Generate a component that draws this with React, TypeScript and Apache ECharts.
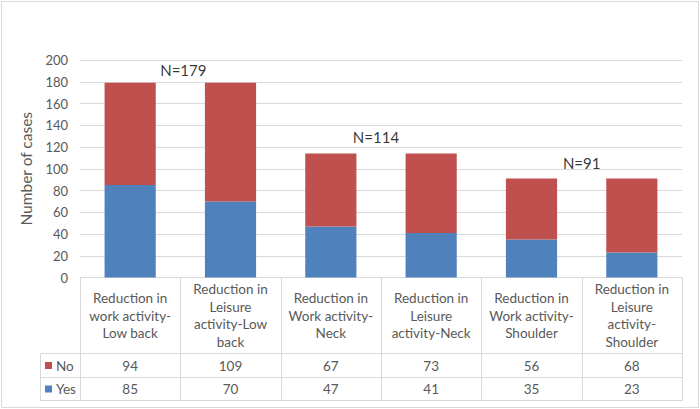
import React, { useEffect, useRef } from "react";
import * as echarts from "echarts";

const categories = [
  "Reduction in\nwork activity-\nLow back",
  "Reduction in\nLeisure\nactivity-Low\nback",
  "Reduction in\nWork activity-\nNeck",
  "Reduction in\nLeisure\nactivity-Neck",
  "Reduction in\nWork activity-\nShoulder",
  "Reduction in\nLeisure\nactivity-\nShoulder",
];
const noValues = [94, 109, 67, 73, 56, 68];
const yesValues = [85, 70, 47, 41, 35, 23];
const nLabels = ["N=179", "N=114", "N=91"];
const nX = [1.03, 2.95, 5.0];
const nY = [191, 129, 105];

const W = 700;
const H = 409;
const GL = 80;
const GR = 682;
const GT = 60;
const GB = 277.5;
const HEADER_B = 353.5;
const ROW1_B = 377.5;
const ROW2_B = 400.5;
const LEG_L = 40.5;

const RED = "#C0504D";
const BLUE = "#4F81BD";
const LINE = "#D9D9D9";
const TXT = "#595959";
const FONT = "Lato, 'Open Sans', sans-serif";

export default function App() {
  const ref = useRef<HTMLDivElement>(null);
  useEffect(() => {
    document.body.style.margin = "0";
    const chart = echarts.init(ref.current!, null, { renderer: "svg" });
    const colW = (GR - GL) / categories.length;
    const graphics: any[] = [];
    graphics.push({
      type: "rect",
      shape: { x: 1.5, y: 1.5, width: W - 3, height: H - 3 },
      style: { fill: "none", stroke: LINE, lineWidth: 1 },
      silent: true,
    });
    for (let i = 0; i <= categories.length; i++) {
      const x = Math.round(GL + i * colW) + 0.5;
      graphics.push({
        type: "line",
        shape: { x1: x, y1: GB, x2: x, y2: ROW2_B },
        style: { stroke: LINE, lineWidth: 1 },
      });
    }
    graphics.push({
      type: "line",
      shape: { x1: LEG_L, y1: HEADER_B, x2: LEG_L, y2: ROW2_B },
      style: { stroke: LINE, lineWidth: 1 },
    });
    [HEADER_B, ROW1_B, ROW2_B].forEach((y) =>
      graphics.push({
        type: "line",
        shape: { x1: LEG_L, y1: y, x2: GR + 0.5, y2: y },
        style: { stroke: LINE, lineWidth: 1 },
      })
    );
    const rows = [
      { name: "No", color: RED, values: noValues, y: (HEADER_B + ROW1_B) / 2 },
      { name: "Yes", color: BLUE, values: yesValues, y: (ROW1_B + ROW2_B) / 2 },
    ];
    rows.forEach((r) => {
      graphics.push({
        type: "rect",
        shape: { x: 45, y: r.y - 3.5, width: 7, height: 7 },
        style: { fill: r.color },
      });
      graphics.push({
        type: "text",
        x: 56,
        y: r.y,
        style: {
          text: r.name,
          fill: TXT,
          font: `13.5px ${FONT}`,
          verticalAlign: "middle",
          align: "left",
        },
      });
      r.values.forEach((v, i) => {
        graphics.push({
          type: "text",
          x: GL + (i + 0.5) * colW,
          y: r.y,
          style: {
            text: String(v),
            fill: TXT,
            font: `13.5px ${FONT}`,
            verticalAlign: "middle",
            align: "center",
          },
        });
      });
    });

    chart.setOption({
      animation: false,
      grid: { left: GL, right: W - GR, top: GT, bottom: H - GB, containLabel: false },
      xAxis: [
        {
          type: "category",
          data: categories,
          axisTick: { show: false },
          axisLine: { lineStyle: { color: LINE } },
          axisLabel: {
            interval: 0,
            color: TXT,
            fontSize: 13.5,
            fontFamily: FONT,
            lineHeight: 17.5,
            verticalAlign: "middle",
            margin: 38,
          },
        },
        { type: "value", min: 0, max: 6, show: false },
      ],
      yAxis: {
        type: "value",
        min: 0,
        max: 200,
        interval: 20,
        name: "Number of cases",
        nameLocation: "middle",
        nameGap: 42,
        nameTextStyle: { color: TXT, fontSize: 15.5, fontFamily: FONT },
        axisLine: { show: false },
        axisTick: { show: false },
        axisLabel: { color: TXT, fontSize: 13, fontFamily: FONT, margin: 12 },
        splitLine: { lineStyle: { color: LINE } },
      },
      series: [
        {
          name: "Yes",
          type: "bar",
          stack: "total",
          data: yesValues,
          barWidth: "51%",
          itemStyle: { color: BLUE },
        },
        {
          name: "No",
          type: "bar",
          stack: "total",
          data: noValues,
          barWidth: "51%",
          itemStyle: { color: RED },
        },
        {
          type: "scatter",
          xAxisIndex: 1,
          symbolSize: 0,
          data: nX.map((x, i) => [x, nY[i], nLabels[i]]),
          label: {
            show: true,
            position: "inside",
            formatter: (p: any) => p.data[2],
            color: "#000",
            fontSize: 15,
            fontFamily: FONT,
          },
        },
      ],
      graphic: graphics,
    });
    return () => chart.dispose();
  }, []);
  return (
    <div
      ref={ref}
      style={{ width: W, height: H, position: "absolute", left: 0, top: 0, background: "#fff" }}
    />
  );
}
